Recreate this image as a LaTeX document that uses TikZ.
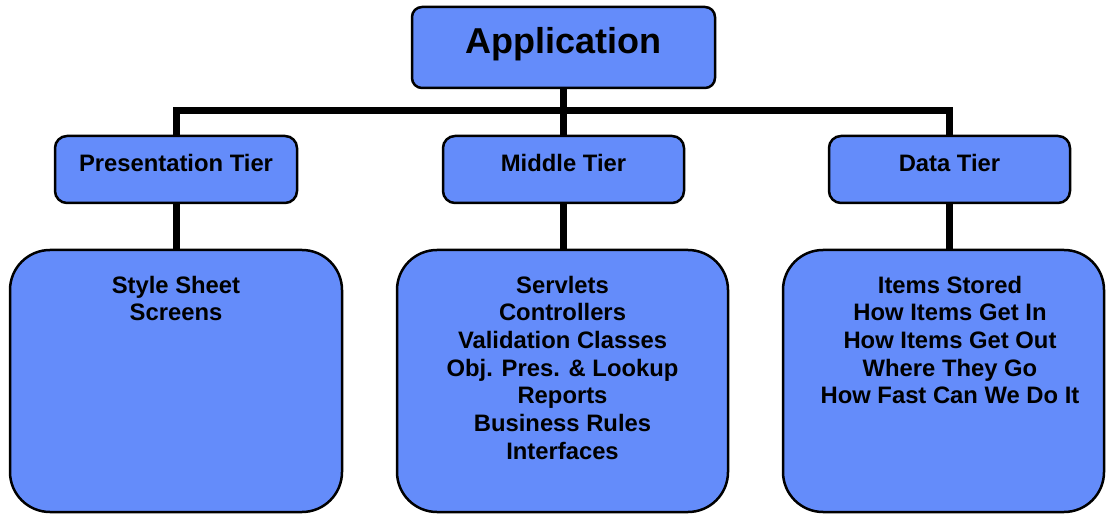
\documentclass[tikz,border=0pt]{standalone}
\usepackage{fontspec}
\setmainfont{Liberation Sans}
\usetikzlibrary{positioning}
\definecolor{tierblue}{RGB}{100,140,250}
\tikzset{
  box/.style={draw=black, line width=2.5pt, fill=tierblue, inner sep=0pt},
  topbox/.style={box, rounded corners=10pt, minimum width=303pt, minimum height=81pt},
  tierbox/.style={box, rounded corners=12pt, minimum width=241pt, minimum height=67pt},
  bigbox/.style={box, rounded corners=40pt, minimum height=262pt},
  boxtext/.style={inner sep=0pt, align=center, font=\bfseries\fontsize{23.8}{27.7}\selectfont},
  wire/.style={line width=7pt}
}
\begin{document}
\begin{tikzpicture}[x=1pt,y=1pt]
\useasboundingbox (0,0) rectangle (1107,514);
% boxes
\node[topbox] (app) at (563.5,466.5) {};
\node[tierbox, minimum width=242pt] (pres) at (176,344.5) {};
\node[tierbox] (mid) at (563.5,344.5) {};
\node[tierbox] (data) at (949.5,344.5) {};
\node[bigbox, minimum width=332pt] (presbox) at (176,133) {};
\node[bigbox, minimum width=331pt] (midbox) at (562.5,133) {};
\node[bigbox, minimum width=321pt] (databox) at (943.5,133) {};
% labels
\node[boxtext, font=\bfseries\fontsize{36}{40}\selectfont, below=21pt of app.north] (apptext) {Application};
\node[boxtext, below=19pt of pres.north] (prestext) {Presentation Tier};
\node[boxtext, below=19pt of mid.north] (midtext) {Middle Tier};
\node[boxtext, below=19pt of data.north] (datatext) {Data Tier};
\node[boxtext, below=27pt of presbox.north] (presitems) {Style Sheet\\Screens};
\node[boxtext, below=27pt of midbox.north] (miditems) {Servlets\\Controllers\\Validation Classes\\Obj. Pres. \& Lookup\\Reports\\Business Rules\\Interfaces};
\node[boxtext, below=27pt of databox.north, xshift=6.5pt] (dataitems) {Items Stored\\How Items Get In\\How Items Get Out\\Where They Go\\How Fast Can We Do It};
% connectors
\coordinate (bus) at (563.5,403);
\draw[wire] (pres.north) |- (bus) -| (data.north);
\draw[wire] (app.south) -- (mid.north);
\draw[wire] (pres.south) -- (presbox.north);
\draw[wire] (mid.south) -- (mid.south |- midbox.north);
\draw[wire] (data.south) -- (data.south |- databox.north);
\end{tikzpicture}
\end{document}
